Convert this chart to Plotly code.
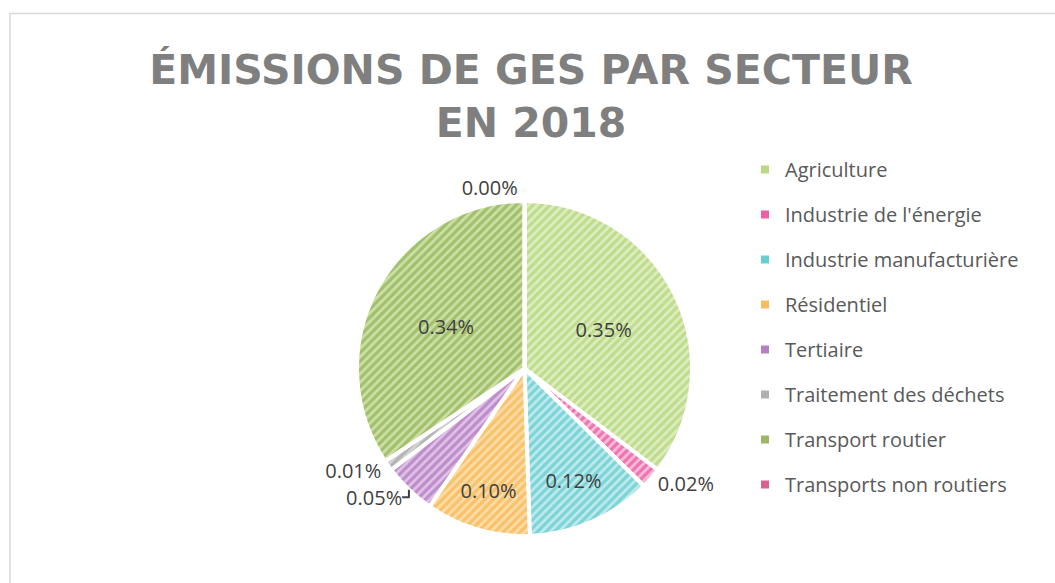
import plotly.graph_objects as go

# GHG emissions by sector, 2018 (shares)
sectors = [
    "Agriculture",
    "Industrie de l'énergie",
    "Industrie manufacturière",
    "Résidentiel",
    "Tertiaire",
    "Traitement des déchets",
    "Transport routier",
    "Transports non routiers",
]
shares = [0.35, 0.02, 0.12, 0.10, 0.05, 0.01, 0.34, 0.00]

# stripe colour and pale background tint for each sector
stripe_colors = ["#A2CC58", "#E62A86", "#37BEC3", "#F5A82C", "#9C55AF", "#959595", "#789F32", "#CE2B67"]
base_colors = ["#DDEDC1", "#F6BED9", "#C0EAEC", "#FCDCA8", "#E0C4E7", "#D3D3D3", "#CCE0A7", "#EEBBCF"]
label_positions = ["inside", "outside", "inside", "inside", "outside", "outside", "inside", "outside"]

W, H = 1055, 583

fig = go.Figure()

fig.add_trace(go.Pie(
    labels=sectors,
    values=shares,
    sort=False,
    direction="clockwise",
    rotation=0,
    domain=dict(x=[357 / W, 692 / W], y=[1 - 537 / H, 1 - 200 / H]),
    marker=dict(
        colors=base_colors,
        line=dict(color="white", width=4),
        pattern=dict(shape="/", fgcolor=stripe_colors, size=6, solidity=0.55, fillmode="overlay"),
    ),
    texttemplate="%{value:.2f}%",
    textposition=label_positions,
    insidetextorientation="horizontal",
    textfont=dict(family="Open Sans", size=20, color="#404040"),
    showlegend=False,
    hoverinfo="label+value",
))

# legend entries, one group each so they can be spaced apart
for name, col in zip(sectors, stripe_colors):
    fig.add_trace(go.Scatter(
        x=[None], y=[None], mode="markers", name=name, legendgroup=name,
        marker=dict(symbol="square", size=8, color=col, opacity=0.75),
        hoverinfo="skip",
    ))

fig.update_layout(
    width=W, height=H,
    margin=dict(l=0, r=0, t=0, b=0),
    paper_bgcolor="white",
    plot_bgcolor="white",
    xaxis=dict(visible=False),
    yaxis=dict(visible=False),
    title=dict(
        text="ÉMISSIONS DE GES PAR SECTEUR<br>EN 2018",
        x=531 / W, xanchor="center",
        y=1 - 84 / H, yanchor="top",
        font=dict(family="DejaVu Sans", size=41, color="#7F7F7F", weight="bold"),
    ),
    legend=dict(
        x=745 / W, xanchor="left",
        y=1 - 150 / H, yanchor="top",
        traceorder="grouped",
        tracegroupgap=16,
        font=dict(family="Open Sans", size=20, color="#595959"),
        bgcolor="rgba(0,0,0,0)",
    ),
    shapes=[dict(
        type="rect", xref="paper", yref="paper",
        x0=10 / W, x1=1.02, y0=-0.02, y1=1 - 13.5 / H,
        line=dict(color="#D9D9D9", width=1.5),
    )],
)

fig.write_html("out.html")
